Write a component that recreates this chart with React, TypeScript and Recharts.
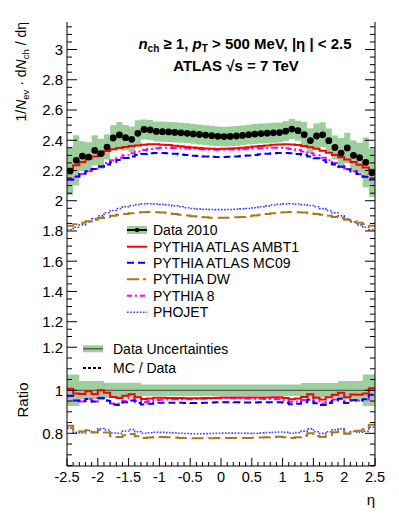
import React from 'react';
import { ComposedChart, Line, Area, Scatter, XAxis, YAxis, ReferenceLine } from 'recharts';

const FONT = "'Liberation Sans', Arial, Helvetica, sans-serif";

// eta bin edges (50 bins of width 0.1)
const etaEdges = [
  -2.5, -2.4, -2.3, -2.2, -2.1, -2.0, -1.9, -1.8, -1.7, -1.6,
  -1.5, -1.4, -1.3, -1.2, -1.1, -1.0, -0.9, -0.8, -0.7, -0.6,
  -0.5, -0.4, -0.3, -0.2, -0.1, 0.0, 0.1, 0.2, 0.3, 0.4,
  0.5, 0.6, 0.7, 0.8, 0.9, 1.0, 1.1, 1.2, 1.3, 1.4,
  1.5, 1.6, 1.7, 1.8, 1.9, 2.0, 2.1, 2.2, 2.3, 2.4, 2.5,
];

const data2010 = [
  2.196, 2.267, 2.295, 2.289, 2.333, 2.311, 2.355, 2.415, 2.435, 2.417,
  2.406, 2.446, 2.471, 2.468, 2.458, 2.457, 2.455, 2.452, 2.449, 2.446,
  2.442, 2.438, 2.434, 2.430, 2.426,
  2.424, 2.425, 2.428, 2.432, 2.437, 2.441, 2.444, 2.447, 2.449, 2.451,
  2.460, 2.474, 2.463, 2.437, 2.398, 2.428, 2.436, 2.397, 2.352, 2.315,
  2.349, 2.300, 2.285, 2.254, 2.185,
];

// relative uncertainty of data (percent)
const dataRelErr = [
  7.3, 7.3, 4.3, 4.3, 4.3, 4.3, 3.5, 3.5, 3.5, 3.5,
  3.5, 3.5, 2.7, 2.7, 2.7, 2.7, 2.7, 2.7, 2.7, 2.7,
  2.7, 2.7, 2.7, 2.7, 2.7,
  2.7, 2.7, 2.7, 2.7, 2.7, 2.7, 2.7, 2.7, 2.7, 2.7,
  2.7, 2.7, 2.7, 3.4, 3.4, 3.4, 3.4, 3.4, 3.4, 4.3,
  4.3, 4.3, 4.3, 7.3, 7.3,
];

const pythiaAMBT1 = [
  2.212, 2.234, 2.256, 2.278, 2.293, 2.311, 2.329, 2.340, 2.348, 2.355,
  2.362, 2.366, 2.371, 2.373, 2.373, 2.371, 2.368, 2.364, 2.360, 2.355,
  2.352, 2.348, 2.346, 2.344, 2.342,
  2.343, 2.345, 2.347, 2.350, 2.354, 2.358, 2.362, 2.366, 2.370, 2.372,
  2.373, 2.372, 2.368, 2.362, 2.354, 2.344, 2.331, 2.318, 2.302, 2.288,
  2.272, 2.256, 2.238, 2.220, 2.205,
];

const pythiaMC09 = [
  2.141, 2.160, 2.178, 2.195, 2.210, 2.225, 2.240, 2.255, 2.269, 2.282,
  2.293, 2.302, 2.309, 2.314, 2.316, 2.316, 2.314, 2.311, 2.306, 2.302,
  2.298, 2.295, 2.293, 2.291, 2.290,
  2.290, 2.291, 2.293, 2.295, 2.299, 2.303, 2.307, 2.311, 2.314, 2.316,
  2.316, 2.314, 2.309, 2.302, 2.292, 2.281, 2.268, 2.254, 2.239, 2.224,
  2.209, 2.194, 2.177, 2.159, 2.140,
];

const pythiaDW = [
  1.835, 1.845, 1.855, 1.865, 1.875, 1.885, 1.893, 1.900, 1.907, 1.913,
  1.918, 1.922, 1.924, 1.925, 1.924, 1.922, 1.918, 1.913, 1.907, 1.902,
  1.897, 1.893, 1.890, 1.888, 1.887,
  1.887, 1.888, 1.890, 1.893, 1.897, 1.902, 1.907, 1.913, 1.918, 1.922,
  1.924, 1.925, 1.924, 1.922, 1.918, 1.913, 1.907, 1.900, 1.893, 1.885,
  1.875, 1.865, 1.855, 1.845, 1.835,
];

const pythia8 = [
  2.138, 2.157, 2.176, 2.195, 2.212, 2.230, 2.250, 2.268, 2.285, 2.300,
  2.314, 2.326, 2.335, 2.342, 2.347, 2.350, 2.350, 2.349, 2.347, 2.345,
  2.343, 2.341, 2.339, 2.338, 2.337,
  2.337, 2.338, 2.339, 2.341, 2.343, 2.345, 2.347, 2.349, 2.350, 2.350,
  2.347, 2.342, 2.335, 2.326, 2.314, 2.300, 2.285, 2.268, 2.250, 2.230,
  2.212, 2.195, 2.176, 2.157, 2.138,
];

const phojet = [
  1.810, 1.825, 1.840, 1.860, 1.880, 1.900, 1.920, 1.935, 1.948, 1.960,
  1.968, 1.974, 1.978, 1.980, 1.979, 1.976, 1.972, 1.966, 1.960, 1.954,
  1.949, 1.946, 1.944, 1.942, 1.941,
  1.941, 1.942, 1.944, 1.946, 1.949, 1.954, 1.960, 1.966, 1.972, 1.976,
  1.979, 1.980, 1.978, 1.974, 1.968, 1.960, 1.948, 1.935, 1.920, 1.900,
  1.880, 1.860, 1.840, 1.825, 1.810,
];

const xMajorTicks = [-2.5, -2, -1.5, -1, -0.5, 0, 0.5, 1, 1.5, 2, 2.5];
const xTickLabels = ['-2.5', '-2', '-1.5', '-1', '-0.5', '0', '0.5', '1', '1.5', '2', '2.5'];
const yMajorTop = [1.2, 1.4, 1.6, 1.8, 2, 2.2, 2.4, 2.6, 2.8, 3];
const yTopLabels = ['1.2', '1.4', '1.6', '1.8', '2', '2.2', '2.4', '2.6', '2.8', '3'];
const yMajorRatio = [0.8, 1, 1.2];
const yRatioLabels = ['0.8', '1', '1.2'];

const TOP_DOMAIN: [number, number] = [1.112, 3.182];
const RATIO_DOMAIN: [number, number] = [0.648, 1.257];

const range = (a: number, b: number, s: number) => {
  const out: number[] = [];
  const n = Math.round((b - a) / s);
  for (let i = 0; i <= n; i++) out.push(Math.round((a + i * s) * 1000) / 1000);
  return out;
};
const xTicks = range(-2.5, 2.5, 0.1);
const yTicksTop = range(1.15, 3.15, 0.05);
const yTicksRatio = range(0.65, 1.25, 0.05);

const findIdx = (arr: number[], v: number) => arr.findIndex((m) => Math.abs(m - v) < 1e-6);

const nBins = data2010.length;
const lastOf = (i: number) => Math.min(i, nBins - 1);

const topRows = etaEdges.map((x, k) => {
  const i = lastOf(k);
  const d = data2010[i];
  const f = dataRelErr[i] / 100;
  return {
    x,
    band: [d * (1 - f), d * (1 + f)],
    ambt1: pythiaAMBT1[i],
    mc09: pythiaMC09[i],
    dw: pythiaDW[i],
    py8: pythia8[i],
    phojet: phojet[i],
  };
});

const ratioRows = etaEdges.map((x, k) => {
  const i = lastOf(k);
  const d = data2010[i];
  const f = dataRelErr[i] / 100;
  return {
    x,
    band: [1 - f, 1 + f],
    ambt1: pythiaAMBT1[i] / d,
    mc09: pythiaMC09[i] / d,
    dw: pythiaDW[i] / d,
    py8: pythia8[i] / d,
    phojet: phojet[i] / d,
  };
});

const points = data2010.map((d, i) => ({ x: (etaEdges[i] + etaEdges[i + 1]) / 2, d }));

const GREEN = '#9dcf9d';
const C_RED = '#ff0000';
const C_BLUE = '#0000ff';
const C_DW = '#a8781c';
const C_MAG = '#ff00ff';
const C_PHO = '#3c3cff';

// tick renderers
const leftTick = (majors: number[], labels: string[]) => (props: any) => {
  const { x, y, payload } = props;
  const idx = findIdx(majors, payload.value);
  const maj = idx >= 0;
  return (
    <g>
      <line x1={x} x2={x + (maj ? 10 : 5)} y1={y} y2={y} stroke="#000" strokeWidth={1} />
      {maj && (
        <text x={x - 4} y={y} dy="0.36em" textAnchor="end" fontSize={15} fontFamily={FONT} fill="#000">
          {labels[idx]}
        </text>
      )}
    </g>
  );
};
const rightTick = (majors: number[]) => (props: any) => {
  const { x, y, payload } = props;
  const maj = findIdx(majors, payload.value) >= 0;
  return <line x1={x} x2={x - (maj ? 10 : 5)} y1={y} y2={y} stroke="#000" strokeWidth={1} />;
};
const xTickUp = (len: number, small: number, withLabel: boolean) => (props: any) => {
  const { x, y, payload } = props;
  const idx = findIdx(xMajorTicks, payload.value);
  const maj = idx >= 0;
  return (
    <g>
      <line x1={x} x2={x} y1={y} y2={y - (maj ? len : small)} stroke="#000" strokeWidth={1} />
      {withLabel && maj && (
        <text x={x} y={y + 16} textAnchor="middle" fontSize={14.5} fontFamily={FONT} fill="#000">
          {xTickLabels[idx]}
        </text>
      )}
    </g>
  );
};
const xTickDown = (props: any) => {
  const { x, y, payload } = props;
  const maj = findIdx(xMajorTicks, payload.value) >= 0;
  return <line x1={x} x2={x} y1={y} y2={y + (maj ? 8 : 4)} stroke="#000" strokeWidth={1} />;
};

const seriesLines = (
  <>
    <Line type="stepAfter" dataKey="phojet" stroke={C_PHO} strokeWidth={1.6} strokeDasharray="1.6 1.6" dot={false} isAnimationActive={false} />
    <Line type="stepAfter" dataKey="dw" stroke={C_DW} strokeWidth={2} strokeDasharray="12 5" dot={false} isAnimationActive={false} />
    <Line type="stepAfter" dataKey="py8" stroke={C_MAG} strokeWidth={2} strokeDasharray="7 3 2 3" dot={false} isAnimationActive={false} />
    <Line type="stepAfter" dataKey="mc09" stroke={C_BLUE} strokeWidth={2} strokeDasharray="7 4" dot={false} isAnimationActive={false} />
    <Line type="stepAfter" dataKey="ambt1" stroke={C_RED} strokeWidth={2} dot={false} isAnimationActive={false} />
  </>
);

export default function App() {
  return (
    <div style={{ position: 'absolute', left: 0, top: 0, width: 399, height: 516, background: '#fff', fontFamily: FONT }}>
      {/* main panel */}
      <div style={{ position: 'absolute', left: 0, top: 0 }}>
        <ComposedChart width={399} height={340} data={topRows} margin={{ top: 22, right: 0, bottom: 5, left: 0 }}>
          <XAxis dataKey="x" type="number" domain={[-2.5, 2.5]} ticks={xTicks} interval={0} height={0}
            tickSize={0} tickMargin={0} tickLine={false} axisLine={{ stroke: '#000' }} tick={xTickUp(8, 4, false)} allowDataOverflow />
          <XAxis xAxisId="top" orientation="top" dataKey="x" type="number" domain={[-2.5, 2.5]} ticks={xTicks} interval={0} height={0}
            tickSize={0} tickMargin={0} tickLine={false} axisLine={{ stroke: '#000' }} tick={xTickDown} allowDataOverflow />
          <YAxis type="number" domain={TOP_DOMAIN} ticks={yTicksTop} interval={0} width={67}
            tickSize={0} tickMargin={0} tickLine={false} axisLine={{ stroke: '#000' }} tick={leftTick(yMajorTop, yTopLabels)} allowDataOverflow />
          <YAxis yAxisId="right" orientation="right" type="number" domain={TOP_DOMAIN} ticks={yTicksTop} interval={0} width={24}
            tickSize={0} tickMargin={0} tickLine={false} axisLine={{ stroke: '#000' }} tick={rightTick(yMajorTop)} allowDataOverflow />
          <Area type="stepAfter" dataKey="band" fill={GREEN} fillOpacity={1} stroke="none" isAnimationActive={false} />
          {seriesLines}
          <Scatter data={points} dataKey="d" isAnimationActive={false}
            shape={(p: any) => <circle cx={p.cx} cy={p.cy} r={3.4} fill="#000" />} />
        </ComposedChart>
      </div>
      {/* ratio panel */}
      <div style={{ position: 'absolute', left: 0, top: 330 }}>
        <ComposedChart width={399} height={186} data={ratioRows} margin={{ top: 5, right: 0, bottom: 0, left: 0 }}>
          <XAxis dataKey="x" type="number" domain={[-2.5, 2.5]} ticks={xTicks} interval={0} height={50}
            tickSize={0} tickMargin={0} tickLine={false} axisLine={{ stroke: '#000' }} tick={xTickUp(8, 4, true)} allowDataOverflow />
          <YAxis type="number" domain={RATIO_DOMAIN} ticks={yTicksRatio} interval={0} width={67}
            tickSize={0} tickMargin={0} tickLine={false} axisLine={{ stroke: '#000' }} tick={leftTick(yMajorRatio, yRatioLabels)} allowDataOverflow />
          <YAxis yAxisId="right" orientation="right" type="number" domain={RATIO_DOMAIN} ticks={yTicksRatio} interval={0} width={24}
            tickSize={0} tickMargin={0} tickLine={false} axisLine={{ stroke: '#000' }} tick={rightTick(yMajorRatio)} allowDataOverflow />
          <Area type="stepAfter" dataKey="band" fill={GREEN} fillOpacity={1} stroke="none" isAnimationActive={false} />
          <ReferenceLine y={1} stroke="#444" strokeWidth={1} />
          {seriesLines}
        </ComposedChart>
      </div>
      {/* texts and legends */}
      <svg width={399} height={516} style={{ position: 'absolute', left: 0, top: 0, pointerEvents: 'none' }} fontFamily={FONT}>
        <text x={245} y={48.5} textAnchor="middle" fontSize={15} fontWeight="bold" fill="#000">
          <tspan fontStyle="italic">n</tspan>
          <tspan fontSize={10} dy={3}>ch</tspan>
          <tspan dy={-3}>{' \u2265 1, '}</tspan>
          <tspan fontStyle="italic">p</tspan>
          <tspan fontSize={10} dy={3}>T</tspan>
          <tspan dy={-3}>{' > 500 MeV, |\u03b7 | < 2.5'}</tspan>
        </text>
        <text x={236} y={70.5} textAnchor="middle" fontSize={15} fontWeight="bold" fill="#000">
          {'ATLAS \u221As = 7 TeV'}
        </text>
        <text transform="translate(26,22) rotate(-90)" textAnchor="end" fontSize={14} fill="#000">
          <tspan>1/</tspan>
          <tspan fontStyle="italic">N</tspan>
          <tspan fontSize={9.5} dy={3}>ev</tspan>
          <tspan dy={-3}>{' \u00b7 d'}</tspan>
          <tspan fontStyle="italic">N</tspan>
          <tspan fontSize={9.5} dy={3}>ch</tspan>
          <tspan dy={-3}>{' / d\u03b7'}</tspan>
        </text>
        <text transform="translate(28,400) rotate(-90)" textAnchor="middle" fontSize={15} fill="#000">Ratio</text>
        <text x={371} y={505} textAnchor="middle" fontSize={15} fill="#000">{'\u03b7'}</text>

        {/* main legend */}
        <g fontSize={14} fill="#000">
          <rect x={127} y={226} width={20} height={8} fill={GREEN} />
          <line x1={127} x2={147} y1={230} y2={230} stroke="#000" strokeWidth={2} />
          <circle cx={137} cy={230} r={2.2} fill="#000" />
          <text x={153} y={235}>Data 2010</text>

          <line x1={127} x2={147} y1={246.7} y2={246.7} stroke={C_RED} strokeWidth={2} />
          <text x={153} y={251.7}>PYTHIA ATLAS AMBT1</text>

          <line x1={127} x2={147} y1={262.7} y2={262.7} stroke={C_BLUE} strokeWidth={2} strokeDasharray="7 4" />
          <text x={153} y={267.7}>PYTHIA ATLAS MC09</text>

          <line x1={127} x2={147} y1={279.3} y2={279.3} stroke={C_DW} strokeWidth={2} strokeDasharray="12 4 3 4" />
          <text x={153} y={284.3}>PYTHIA DW</text>

          <line x1={127} x2={147} y1={295.7} y2={295.7} stroke={C_MAG} strokeWidth={2} strokeDasharray="5 3 2 3" />
          <text x={153} y={300.7}>PYTHIA 8</text>

          <line x1={127} x2={147} y1={312.3} y2={312.3} stroke={C_PHO} strokeWidth={1.6} strokeDasharray="1.6 1.6" />
          <text x={153} y={317.3}>PHOJET</text>
        </g>

        {/* ratio legend */}
        <g fontSize={14} fill="#000">
          <rect x={83} y={345.3} width={20} height={7} fill={GREEN} />
          <line x1={83} x2={103} y1={348.8} y2={348.8} stroke="#333" strokeWidth={1} />
          <text x={113} y={354}>Data Uncertainties</text>
          <line x1={83} x2={103} y1={368} y2={368} stroke="#000" strokeWidth={2} strokeDasharray="3 2" />
          <text x={113} y={373}>MC / Data</text>
        </g>
      </svg>
    </div>
  );
}
